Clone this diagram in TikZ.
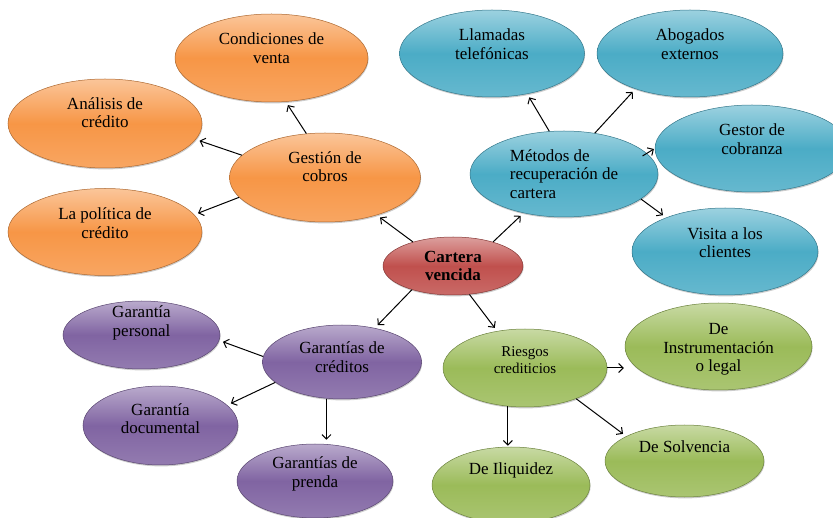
\documentclass[tikz,border=0pt]{standalone}
\usepackage{fontspec}
\setmainfont{Liberation Serif}
\usetikzlibrary{shapes.geometric, arrows.meta, shadows}
\definecolor{naranja}{HTML}{F79646}
\definecolor{azul}{HTML}{4BACC6}
\definecolor{morado}{HTML}{8064A2}
\definecolor{verde}{HTML}{9BBB59}
\definecolor{rojo}{HTML}{C0504D}
\tikzset{
  burbuja/.style={ellipse, inner sep=0pt, top color=#1!55!white,
    bottom color=#1!85!white, middle color=#1, draw=#1!70!black, line width=0.5pt,
    drop shadow={shadow xshift=0.6pt, shadow yshift=-1.4pt, opacity=0.4}},
  every label/.style={align=center, font=\fontsize{17}{18.5}\selectfont, text=black},
  flecha/.style={-{Straight Barb[length=4.5pt,width=9pt]}, line width=1pt, shorten >=4pt},
}

\begin{document}
\begin{tikzpicture}[x=1pt, y=-1pt]
    \useasboundingbox (0,0) rectangle (833,518);
    \clip (0,0) rectangle (833,518);
    % Mitte
    \node[burbuja=rojo, minimum width=140, minimum height=58,
      label={[font=\fontsize{17}{18.5}\selectfont\bfseries]center:{Cartera\\vencida}}] (cartera) at (453,266) {};
    % Gestion de cobros (orange)
    \node[burbuja=naranja, minimum width=191, minimum height=89,
      label={[yshift=11pt]center:{Gestión de\\cobros}}] (gestion) at (325,177.5) {};
    \node[burbuja=naranja, minimum width=193, minimum height=88,
      label={[yshift=10pt]center:{Condiciones de\\venta}}] (condiciones) at (271.5,58) {};
    \node[burbuja=naranja, minimum width=194, minimum height=89,
      label={[yshift=11pt]center:{Análisis de\\crédito}}] (analisis) at (105,123.5) {};
    \node[burbuja=naranja, minimum width=194, minimum height=87,
      label={[yshift=9pt]center:{La política de\\crédito}}] (politica) at (105,232) {};
    % Metodos (blau)
    \node[burbuja=azul, minimum width=188, minimum height=86,
      label={[align=left]center:{Métodos de\\recuperación de\\cartera}}] (metodos) at (564,174) {};
    \node[burbuja=azul, minimum width=185, minimum height=87,
      label={[yshift=9.5pt]center:{Llamadas\\telefónicas}}] (llamadas) at (492,53.5) {};
    \node[burbuja=azul, minimum width=186, minimum height=87,
      label={[yshift=9.5pt]center:{Abogados\\externos}}] (abogados) at (690,53.5) {};
    \node[burbuja=azul, minimum width=194, minimum height=87,
      label={[yshift=9.5pt]center:{Gestor de\\cobranza}}] (gestor) at (752,148.5) {};
    \node[burbuja=azul, minimum width=186, minimum height=87,
      label={[yshift=9pt]center:{Visita a los\\clientes}}] (visita) at (725,251.5) {};
    % Garantias (lila)
    \node[burbuja=morado, minimum width=159, minimum height=74,
      label={[yshift=5pt]center:{Garantías de\\créditos}}] (garcred) at (342,362) {};
    \node[burbuja=morado, minimum width=157, minimum height=68,
      label={[yshift=12pt]center:{Garantía\\personal}}] (personal) at (141.5,335) {};
    \node[burbuja=morado, minimum width=155, minimum height=79,
      label={[yshift=7pt]center:{Garantía\\documental}}] (documental) at (160.5,425.5) {};
    \node[burbuja=morado, minimum width=156, minimum height=74,
      label={[yshift=7pt]center:{Garantías de\\prenda}}] (prenda) at (315,481) {};
    % Riesgos (gruen)
    \node[burbuja=verde, minimum width=164, minimum height=78,
      label={[yshift=8pt, font=\fontsize{15}{16.5}\selectfont]center:{Riesgos\\crediticios}}] (riesgos) at (525,368) {};
    \node[burbuja=verde, minimum width=187, minimum height=87,
      label={[yshift=-3pt]center:{De\\Instrumentación\\o legal}}] (instr) at (718.5,346.5) {};
    \node[burbuja=verde, minimum width=159, minimum height=72,
      label={[yshift=14pt]center:{De Solvencia}}] (solvencia) at (684.5,461) {};
    \node[burbuja=verde, minimum width=158, minimum height=76,
      label={[yshift=15pt]center:{De Iliquidez}}] (iliquidez) at (511,485) {};
    % Pfeile
    \draw[flecha] (cartera.149) -- (gestion.324);
    \draw[flecha] (cartera.31) -- (metodos.224);
    \draw[flecha] (cartera.210) -- (garcred.46);
    \draw[flecha] (cartera.300) -- (riesgos.127);
    \draw[flecha] (gestion.113) -- (condiciones.288);
    \draw[flecha] (gestion.165) -- (analisis.350);
    \draw[flecha] (gestion.193) -- (politica.11);
    \draw[flecha] (metodos.109) -- (llamadas.311);
    \draw[flecha] (metodos.53) -- (abogados.213);
    \draw[flecha, shorten >=1pt, shorten <=-5pt] (metodos.14) -- (gestor.180);
    \draw[flecha] (metodos.342) -- (visita.150);
    \draw[flecha] (garcred.176) -- (personal.356);
    \draw[flecha] (garcred.197) -- (documental.17);
    \draw[flecha] (garcred.247) -- (garcred.247 |- prenda.north);
    \draw[flecha, shorten >=1pt] (riesgos.east) -- (riesgos.east -| instr.west);
    \draw[flecha, shorten >=1pt] (riesgos.246) -- (riesgos.246 |- iliquidez.north);
    \draw[flecha] (riesgos.329) -- (solvencia.157);
\end{tikzpicture}
\end{document}
